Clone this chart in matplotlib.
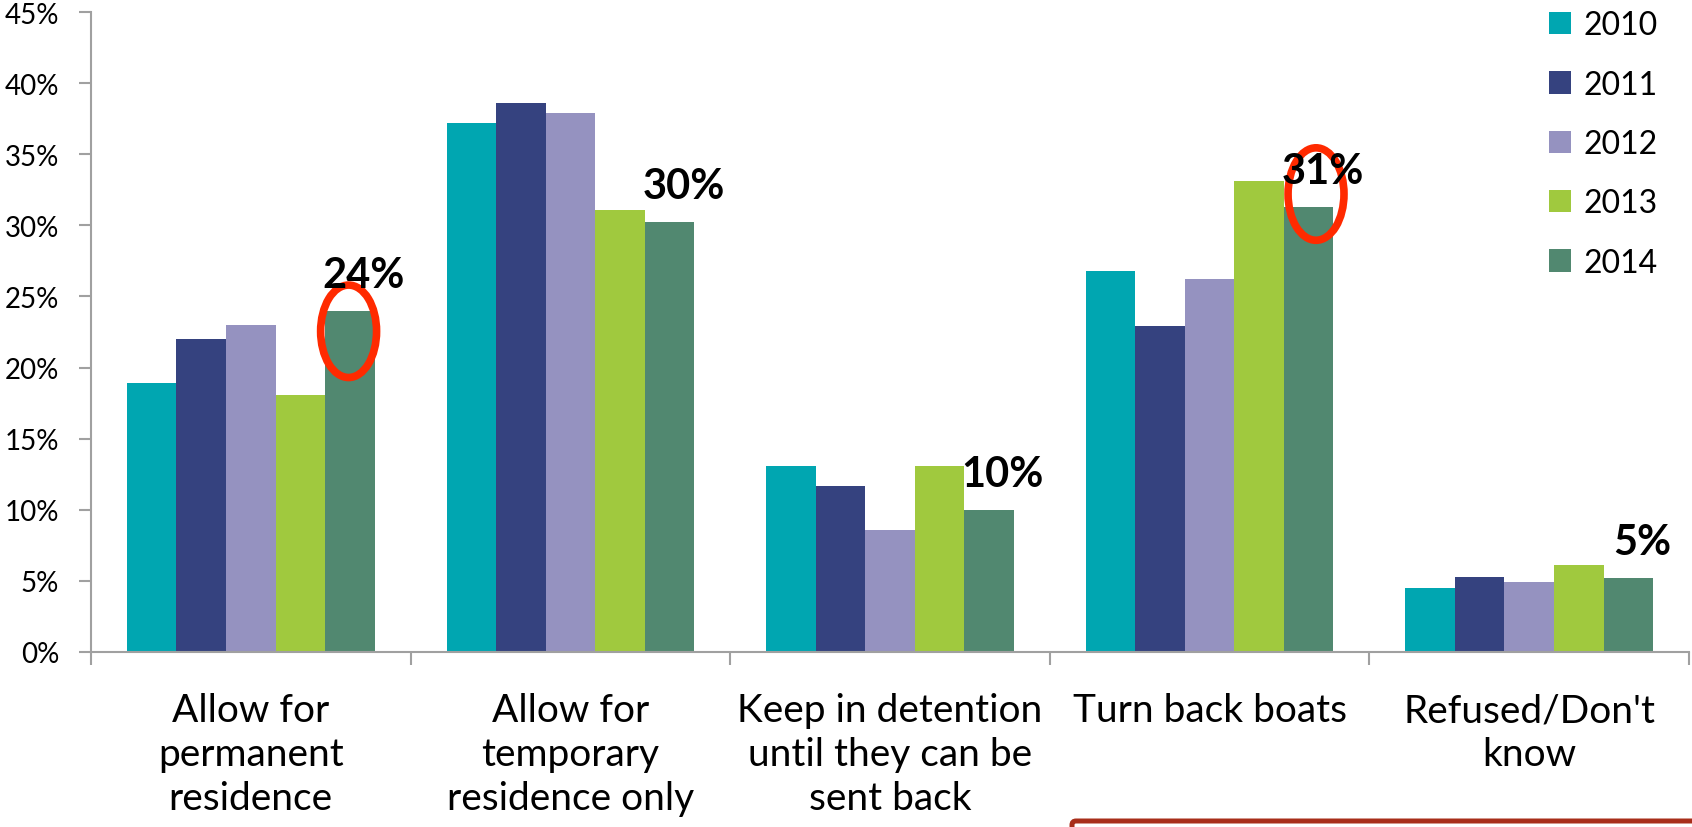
import numpy as np
import matplotlib
matplotlib.use("Agg")
import matplotlib.pyplot as plt
from matplotlib.patches import Patch, Ellipse, FancyBboxPatch
from matplotlib.ticker import FuncFormatter

plt.rcParams['font.family'] = ['Lato', 'DejaVu Sans']

categories = [
    "Allow for\npermanent\nresidence",
    "Allow for\ntemporary\nresidence only",
    "Keep in detention\nuntil they can be\nsent back",
    "Turn back boats",
    "Refused/Don't\nknow",
]
years = ["2010", "2011", "2012", "2013", "2014"]
v2010 = [18.9, 37.2, 13.1, 26.8, 4.5]
v2011 = [22.0, 38.6, 11.7, 22.9, 5.3]
v2012 = [23.0, 37.9, 8.6, 26.2, 4.9]
v2013 = [18.1, 31.1, 13.1, 33.1, 6.1]
v2014 = [24.0, 30.2, 10.0, 31.3, 5.2]
series = [v2010, v2011, v2012, v2013, v2014]
colors = ["#00A6B1", "#35427F", "#9592C0", "#A0C93E", "#518870"]

# categories whose 2014 bar gets a hand-drawn red ring
circled = [0, 3]

fig = plt.figure(figsize=(16.92, 8.28), dpi=100)
ax = fig.add_axes([91 / 1692, 175 / 828, (1689 - 91) / 1692, (653 - 13) / 828])

x = np.arange(len(categories))
w = 0.155
for k, (vals, c) in enumerate(zip(series, colors)):
    ax.bar(x + (k - 2) * w, vals, width=w, color=c, label=years[k], zorder=2)

# value labels for 2014
for i, v in enumerate(v2014):
    ax.annotate(f"{v:.0f}%", (x[i] + 2 * w, v), xytext=(10, 26),
                textcoords="offset points", ha="center", va="center",
                fontsize=30, fontweight="bold", color="black", zorder=4)

# rings are not drawn exactly on the bar tops
ring_shift = {0: (-0.004, -1.45), 3: (0.023, 0.9)}
for i in circled:
    dx, dy = ring_shift[i]
    ax.add_patch(Ellipse((x[i] + 2 * w + dx, v2014[i] + dy), 0.175, 6.5,
                         fill=False, edgecolor="#FF2A00", linewidth=5.5, zorder=3))

ax.set_xlim(-0.5, len(categories) - 0.5)
ax.set_ylim(0, 45)
ax.set_yticks(np.arange(0, 46, 5))
ax.yaxis.set_major_formatter(FuncFormatter(lambda v, p: f"{v:.0f}%"))

ax.set_xticks(x)
ax.set_xticklabels(categories, fontsize=28, linespacing=1.27, va="top")
ax.set_xticks(np.arange(-0.5, len(categories), 1), minor=True)
ax.tick_params(axis="x", which="major", length=0, pad=29)
ax.tick_params(axis="x", which="minor", length=9, width=1.5, color="#A0A0A0", direction="out")
ax.tick_params(axis="y", length=9, width=1.5, color="#A0A0A0", pad=14, labelsize=20)

for s in ["top", "right"]:
    ax.spines[s].set_visible(False)
for s in ["left", "bottom"]:
    ax.spines[s].set_color("#A0A0A0")
    ax.spines[s].set_linewidth(1.5)

handles = [Patch(facecolor=c, label=y) for c, y in zip(colors, years)]
fig.legend(handles=handles, loc="upper left", bbox_to_anchor=(1536 / 1692, 1 + 1.5 / 828),
           frameon=False, fontsize=23, handlelength=0.7, handleheight=0.7,
           handletextpad=0.4, labelspacing=0.92, borderaxespad=0)

# boxed note along the lower edge, mostly off the canvas
fig.patches.append(FancyBboxPatch((1072, -100), 800, 100 + 828 - 822,
                                  boxstyle="round,pad=0,rounding_size=4",
                                  transform=None, facecolor="white",
                                  edgecolor="#A82E1A", linewidth=3.6, zorder=5))

fig.savefig("out.png", dpi=100)
